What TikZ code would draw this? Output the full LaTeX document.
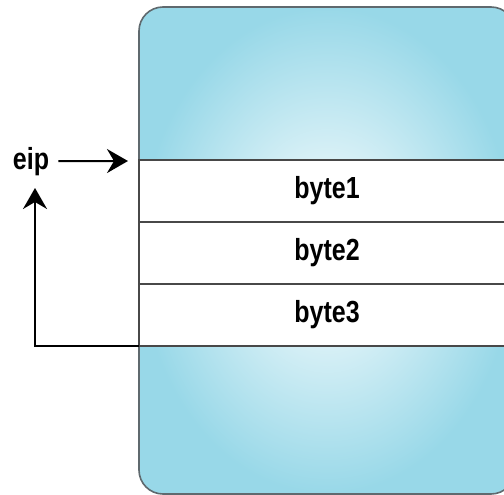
\documentclass[tikz,border=0pt]{standalone}
\usepackage{fontspec}
\setmainfont{Liberation Sans}
\usetikzlibrary{arrows.meta}
\definecolor{memblue}{RGB}{152,216,232}
\definecolor{memedge}{RGB}{95,105,110}
\definecolor{rowline}{RGB}{72,72,72}
\newcommand{\mylbl}[1]{\scalebox{0.82}[1]{#1}}
\tikzset{
  lbl/.style={font=\fontsize{30.5}{30.5}\selectfont\bfseries, text=black},
  membox/.style={draw=memedge, line width=1.6pt, rounded corners=24pt,
    inner color=white, outer color=memblue, minimum width=376pt, minimum height=487pt},
  rowbox/.style={lbl, draw=rowline, line width=2.4pt, fill=white,
    minimum width=376pt, minimum height=62pt, inner sep=0pt, outer sep=0pt},
  conn/.style={draw=black, line width=2pt, -{Stealth[length=21pt,width=24pt,inset=7pt]}},
}
\begin{document}
\begin{tikzpicture}[x=1pt,y=-1pt]
\useasboundingbox (0,0) rectangle (504,495);
\clip (0,0) rectangle (504,495);
\fill[white] (0,0) rectangle (504,495);
\node[membox] (mem) at (327,250.5) {};
\node[rowbox] (b1) at (327,191) {\raisebox{-3.5pt}{\mylbl{byte1}}};
\node[rowbox] (b2) at (327,253) {\raisebox{-3.5pt}{\mylbl{byte2}}};
\node[rowbox] (b3) at (327,315) {\raisebox{-3.5pt}{\mylbl{byte3}}};
\node[lbl, inner xsep=9pt, inner ysep=0pt, anchor=base] (eip) at (31,169) {\mylbl{eip}};
\coordinate (entry) at (128,161);
\coordinate (ret) at (35,346);
\coordinate (rettop) at (35,188);
\draw[conn] (eip.east) -- (entry);
\draw[conn] (b3.south west) -- (ret) -- (rettop);
\end{tikzpicture}
\end{document}
